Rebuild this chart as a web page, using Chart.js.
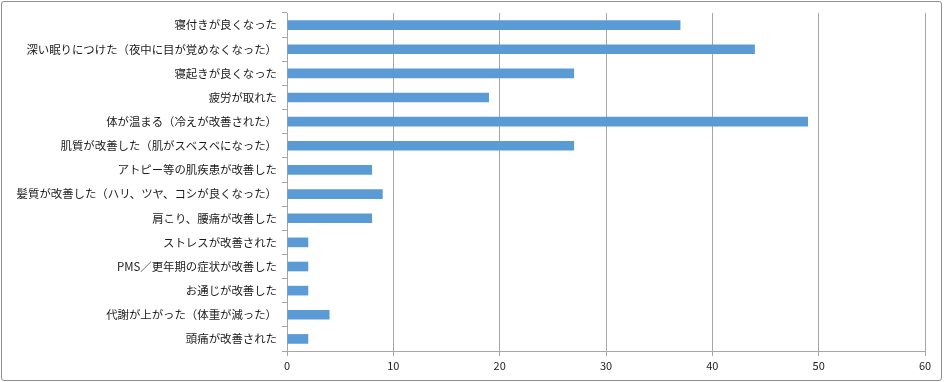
<!DOCTYPE html>
<html>
<head>
<meta charset="utf-8">
<script src="https://cdn.jsdelivr.net/npm/chart.js@4/dist/chart.umd.min.js"></script>
<style>
  body { margin: 0; background: #fff; }
  #wrap { position: relative; width: 946px; height: 382px; }
  #frame { position: absolute; left: 1px; top: 1px; width: 941px; height: 380px; box-sizing: border-box;
           border: 1px solid #8e8e8e; border-radius: 3px; pointer-events: none; }
</style>
</head>
<body>
<div id="wrap">
  <canvas id="chart" width="946" height="382"></canvas>
  <div id="frame"></div>
</div>
<script>
// categories (top to bottom) and answer counts
const categories = [
  '寝付きが良くなった',
  '深い眠りにつけた（夜中に目が覚めなくなった）',
  '寝起きが良くなった',
  '疲労が取れた',
  '体が温まる（冷えが改善された）',
  '肌質が改善した（肌がスベスベになった）',
  'アトピー等の肌疾患が改善した',
  '髪質が改善した（ハリ、ツヤ、コシが良くなった）',
  '肩こり、腰痛が改善した',
  'ストレスが改善された',
  'PMS／更年期の症状が改善した',
  'お通じが改善した',
  '代謝が上がった（体重が減った）',
  '頭痛が改善された'
];
const counts = [37, 44, 27, 19, 49, 27, 8, 9, 8, 2, 2, 2, 4, 2];
const xMin = 0, xMax = 60, xStep = 10;

const gridColor = '#a6a6a6';
const yFont = { family: '"Noto Sans CJK JP", "Noto Sans", sans-serif', size: 11.4 };
const xFont = { family: '"Noto Sans CJK JP", "Noto Sans", sans-serif', size: 11 };

new Chart(document.getElementById('chart').getContext('2d'), {
  type: 'bar',
  data: {
    labels: categories,
    datasets: [{ data: counts, backgroundColor: '#5b9bd5', borderWidth: 0,
                 barPercentage: 0.4, categoryPercentage: 1 }]
  },
  options: {
    indexAxis: 'y',
    responsive: false,
    animation: false,
    layout: { padding: { left: 0, right: 21, top: 13, bottom: 0 } },
    plugins: { legend: { display: false }, tooltip: { enabled: false } },
    scales: {
      x: {
        min: xMin, max: xMax,
        ticks: { stepSize: xStep, color: '#222', font: xFont, padding: 3 },
        grid: { color: gridColor, lineWidth: 1, tickLength: 5, tickColor: gridColor },
        border: { color: gridColor },
        afterFit: s => { s.height = 31; }
      },
      y: {
        ticks: { color: '#1a1a1a', font: yFont, padding: 5, autoSkip: false },
        grid: { drawOnChartArea: false, tickLength: 5, color: gridColor, offset: true },
        border: { color: gridColor },
        afterFit: s => { s.width = 287; }
      }
    }
  }
});
</script>
</body>
</html>
